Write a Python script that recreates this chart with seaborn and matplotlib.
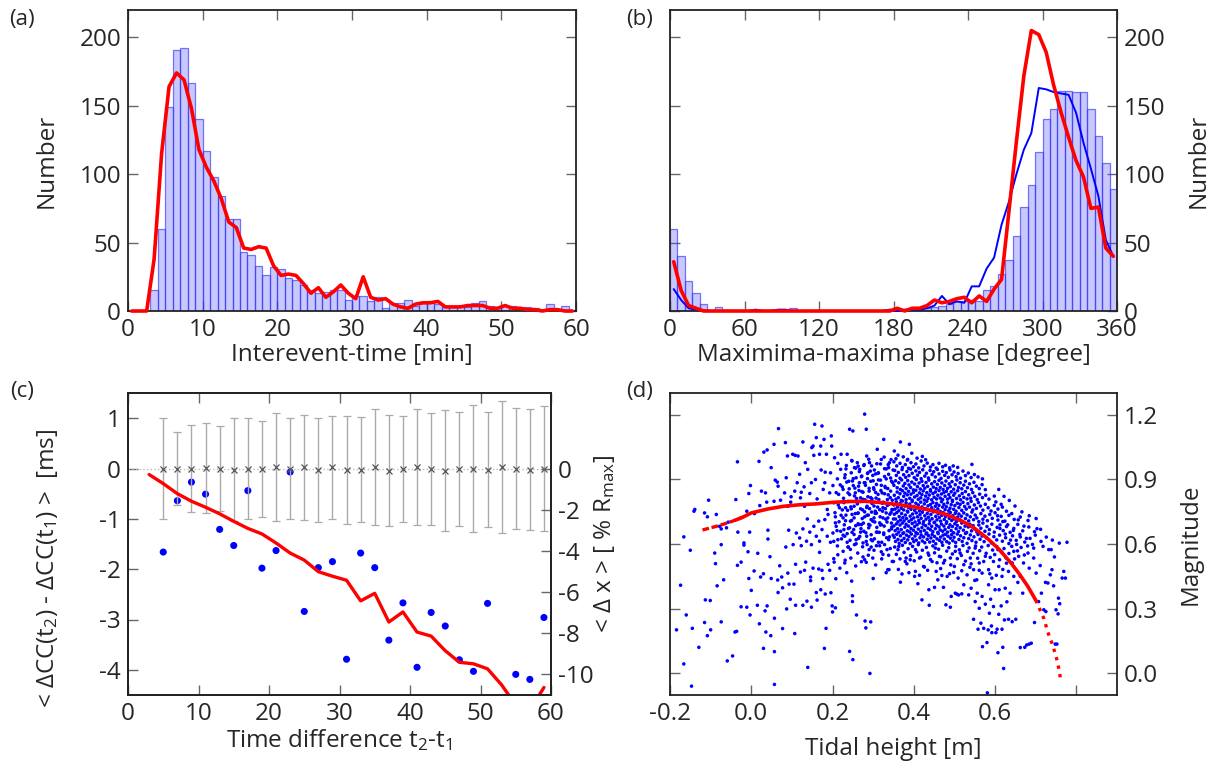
import numpy as np
import pandas as pd
import matplotlib
matplotlib.use("Agg")
import matplotlib.pyplot as plt
import seaborn as sns

# ---- (a) interevent-time histogram (1 min bins) + red model ----
interevent_counts = [0, 0, 0, 15, 60, 149, 191, 192, 167, 140, 117, 98, 84, 67, 67, 43, 41, 33, 26, 32,
                     31, 24, 23, 19, 15, 13, 14, 15, 15, 8, 11, 11, 7, 10, 2, 6, 6, 8, 4, 6,
                     7, 5, 3, 3, 4, 3, 6, 7, 4, 3, 4, 4, 2, 3, 2, 1, 5, 1, 4, 1]
interevent_model = [0, 0, 0, 38, 115, 164, 174, 169, 148, 118, 105, 95, 82, 65, 61, 46, 45, 47, 46, 33,
                    26, 27, 26, 20, 13, 17, 10, 14, 19, 13, 9, 25, 10, 8, 9, 5, 3, 2, 5, 6,
                    6, 7, 3, 3, 3, 4, 4, 4, 2, 2, 4, 2, 2, 1, 1, 0, 1, 1, 0, 0]

# ---- (b) phase histogram (6 degree bins) + blue / red curves ----
phase_counts = [60, 40, 22, 13, 5, 1, 3, 1, 0, 0, 0, 1, 1, 1, 1, 1, 2, 0, 0, 0,
                0, 0, 0, 0, 0, 0, 0, 0, 0, 1, 0, 1, 1, 1, 2, 3, 4, 5, 7, 7,
                8, 7, 15, 18, 27, 37, 55, 76, 92, 116, 140, 148, 161, 161, 160, 160, 148, 128, 108, 89]
phase_blue = [16, 8, 2, 1, 0.5, 0, 0, 0, 0, 0, 0, 1, 0, 0, 1, 1, 0, 0, 0, 0,
              0, 0, 0, 0, 0, 0, 0, 0, 0, 1, 0, 1, 1, 1, 2, 4, 11, 5, 7, 6,
              18, 18, 31, 39, 63, 80, 100, 118, 130, 163, 162, 160, 159, 158, 145, 123, 104, 84, 52, 40]
phase_red = [36, 15, 4, 2, 0, 0, 0, 0, 0, 0, 0, 0, 0, 0, 0, 0, 0, 0, 0, 0,
             0, 0, 0, 0, 0, 0, 0, 0, 0, 0, 2, 0, 2, 2, 4, 8, 6, 7, 9, 10,
             6, 11, 7, 16, 23, 73, 124, 172, 205, 202, 189, 165, 145, 127, 110, 98, 75, 76, 46, 40]

# ---- (c) stacked cross-correlation differences ----
lag_x = [5, 7, 9, 11, 13, 15, 17, 19, 21, 23, 25, 27, 29, 31, 33, 35, 37, 39, 41, 43,
         45, 47, 49, 51, 53, 55, 57, 59]
lag_mean = [0, 0, 0, 0.01, 0, -0.02, 0, -0.01, 0.03, 0, 0.02, -0.03, 0.02, -0.03, -0.02, 0.03,
            -0.04, -0.01, 0.03, -0.01, -0.04, -0.01, 0, -0.02, 0.03, 0, -0.02, 0]
lag_err = [1.0, 0.73, 0.87, 0.9, 0.85, 1.02, 1.0, 0.95, 1.07, 1.0, 1.04, 1.04, 1.03, 1.08,
           1.04, 1.15, 1.11, 1.06, 1.16, 1.12, 1.21, 1.14, 1.26, 1.15, 1.32, 1.2, 1.21, 1.25]
dots_x = [5, 7, 9, 11, 13, 15, 17, 19, 21, 23, 25, 27, 29, 31, 33, 35, 37, 39, 41, 43,
          45, 47, 49, 51, 55, 57, 59]
dots_y = [-1.66, -0.64, -0.27, -0.51, -1.21, -1.53, -0.44, -1.98, -1.63, -0.07, -2.84, -1.97,
          -1.85, -3.79, -1.68, -1.97, -3.41, -2.67, -3.95, -2.86, -3.13, -3.8, -4.03, -2.68,
          -4.09, -4.19, -2.96]
shift_x = [3, 5, 7, 9, 11, 13, 15, 17, 19, 21, 23, 25, 27, 29, 31, 33, 35, 37, 39, 41,
           43, 45, 47, 49, 51, 53, 55, 57, 59]
shift_y = [-0.12, -0.3, -0.5, -0.65, -0.77, -0.9, -1.05, -1.19, -1.3, -1.48, -1.68, -1.82,
           -2.05, -2.14, -2.22, -2.63, -2.48, -3.05, -2.85, -3.25, -3.33, -3.62, -3.85, -3.88,
           -3.98, -4.3, -4.7, -4.8, -4.35]

# ---- (d) magnitude vs tidal height ----
pts_upper_left = [
    (-0.166, 0.633), (-0.141, 0.752), (-0.139, 0.760), (-0.115, 0.744), (-0.108, 0.726), (-0.105, 0.803),
    (-0.086, 0.737), (-0.078, 0.682), (-0.074, 0.670), (-0.061, 0.675), (-0.057, 0.701), (-0.038, 0.806),
    (-0.034, 0.981), (-0.033, 0.655), (-0.018, 0.605), (-0.011, 0.752), (-0.006, 0.834), (-0.004, 0.655),
    (-0.002, 0.871), (0.008, 0.741), (0.019, 0.983), (0.021, 0.778), (0.025, 0.845), (0.031, 1.026),
    (0.035, 0.837), (0.038, 0.794), (0.039, 1.036), (0.041, 0.664), (0.041, 0.623), (0.049, 0.954),
    (0.056, 1.062), (0.056, 0.798), (0.059, 0.896), (0.064, 0.887), (0.066, 0.868), (0.067, 1.135),
    (0.072, 0.803), (0.082, 0.837), (0.084, 1.070), (0.086, 0.907), (0.089, 1.008), (0.090, 0.775),
    (0.092, 0.664), (0.097, 0.794), (0.098, 0.819), (0.102, 1.016), (0.107, 0.845), (0.108, 1.011),
    (0.113, 0.884), (0.115, 1.008), (0.119, 0.923), (0.121, 0.814), (0.123, 0.840), (0.127, 1.073),
    (0.130, 0.865), (0.131, 0.775), (0.133, 0.977), (0.138, 0.716), (0.139, 0.946), (0.144, 0.834),
    (0.148, 0.884), (0.149, 1.047), (0.152, 1.054), (0.154, 1.011), (0.156, 1.155), (0.158, 0.899),
    (0.160, 1.093), (0.162, 0.809), (0.166, 0.706), (0.168, 1.016), (0.171, 1.054), (0.172, 0.943),
    (0.174, 1.147), (0.177, 0.853), (0.179, 1.085), (0.181, 0.884), (0.182, 0.933), (0.185, 1.016),
    (0.187, 0.760), (0.189, 0.737), (0.193, 0.837), (0.195, 0.930), (0.197, 1.101), (0.198, 1.054),
    (0.201, 0.871), (0.203, 0.791), (0.205, 1.000), (0.207, 0.726), (0.209, 0.682), (0.212, 0.902),
    (0.213, 0.974), (0.215, 0.830), (0.217, 0.768), (0.220, 0.946), (0.221, 1.016), (0.226, 0.853),
    (0.228, 0.667), (0.230, 0.907), (0.232, 0.768), (0.234, 0.964), (0.236, 1.016), (0.238, 0.837),
    (0.240, 0.891), (0.242, 1.132), (0.244, 0.706), (0.246, 0.930), (0.248, 0.985), (0.250, 1.124),
    (0.251, 0.871), (0.253, 0.775), (0.254, 0.954), (0.256, 0.837), (0.258, 0.907), (0.261, 0.977),
    (0.263, 0.744), (0.264, 0.868), (0.267, 0.946), (0.269, 0.814), (0.271, 0.690), (0.272, 0.915),
    (0.275, 0.840), (0.277, 0.964), (0.279, 1.202), (0.280, 0.884), (0.283, 1.132), (0.284, 1.008),
    (0.285, 0.775), (0.287, 0.930), (0.290, 0.845), (0.291, 0.977), (0.294, 0.891), (0.295, 0.713),
    (0.297, 0.809), (0.299, 0.918), (0.302, 0.853), (0.303, 0.943), (0.305, 0.752), (0.308, 0.876),
    (0.310, 1.039), (0.312, 0.830), (0.313, 0.930), (0.316, 0.698), (0.318, 0.896), (0.320, 0.992),
    (0.322, 0.837), (0.324, 0.768), (0.326, 1.085), (0.328, 0.949), (0.330, 0.861), (0.332, 0.902),
    (0.335, 0.806), (0.336, 0.721), (0.338, 0.923), (0.340, 0.977), (0.343, 0.845), (0.345, 0.891),
    (0.346, 0.760), (0.349, 0.943),
    (0.111, 0.651), (0.119, 0.628), (0.127, 0.670), (0.136, 0.613), (0.144, 0.655), (0.154, 0.682),
    (0.160, 0.636), (0.168, 0.613), (0.174, 0.667), (0.181, 0.713), (0.187, 0.636), (0.195, 0.608),
    (0.201, 0.651), (0.207, 0.698), (0.213, 0.620), (0.220, 0.659), (0.226, 0.721), (0.230, 0.636),
    (0.236, 0.608), (0.242, 0.675), (0.248, 0.737), (0.253, 0.644), (0.258, 0.620), (0.264, 0.690),
    (0.269, 0.655), (0.275, 0.605), (0.279, 0.726), (0.284, 0.636), (0.289, 0.675), (0.295, 0.620),
    (0.302, 0.721), (0.308, 0.655), (0.313, 0.608), (0.320, 0.690), (0.326, 0.644), (0.332, 0.744),
    (0.338, 0.620), (0.345, 0.670), (0.350, 0.716),
]
pts_mid_left = [
    (0.203, 0.612), (0.206, 0.745), (0.209, 0.838), (0.211, 0.662), (0.214, 0.781), (0.216, 0.703),
    (0.219, 0.874), (0.222, 0.624), (0.224, 0.758), (0.227, 0.812), (0.229, 0.689), (0.231, 0.921),
    (0.233, 0.734), (0.236, 0.648), (0.238, 0.797), (0.241, 0.856), (0.243, 0.617), (0.245, 0.772),
    (0.247, 0.709), (0.249, 0.892), (0.252, 0.667), (0.254, 0.823), (0.256, 0.741), (0.258, 0.601),
    (0.261, 0.786), (0.263, 0.694), (0.265, 0.848), (0.267, 0.635), (0.269, 0.763), (0.271, 0.912),
    (0.273, 0.718), (0.275, 0.807), (0.277, 0.659), (0.279, 0.749), (0.281, 0.872), (0.283, 0.612),
    (0.285, 0.733), (0.287, 0.819), (0.289, 0.691), (0.291, 0.764), (0.293, 0.938), (0.295, 0.643),
    (0.297, 0.788), (0.299, 0.706), (0.301, 0.861), (0.303, 0.624), (0.305, 0.742), (0.307, 0.813),
    (0.309, 0.677), (0.311, 0.771), (0.313, 0.897), (0.315, 0.654), (0.317, 0.726), (0.319, 0.848),
    (0.321, 0.608), (0.323, 0.752), (0.325, 0.794), (0.327, 0.683), (0.329, 0.867), (0.331, 0.715),
    (0.333, 0.629), (0.335, 0.779), (0.337, 0.828), (0.339, 0.662), (0.341, 0.738), (0.343, 0.906),
    (0.345, 0.697), (0.347, 0.803), (0.349, 0.641), (0.348, 0.759),
    (0.257, 0.952), (0.266, 0.884), (0.278, 0.968), (0.286, 0.903), (0.296, 0.962), (0.306, 0.925),
    (0.318, 0.971), (0.328, 0.913), (0.338, 0.954), (0.344, 0.991),
    (0.212, 0.591), (0.226, 0.566), (0.244, 0.575), (0.262, 0.558), (0.274, 0.587), (0.288, 0.548),
    (0.302, 0.571), (0.316, 0.592), (0.324, 0.552), (0.342, 0.579),
    (0.231, 0.525), (0.257, 0.498), (0.283, 0.515), (0.306, 0.503), (0.321, 0.531), (0.338, 0.548),
    (0.221, 0.733), (0.224, 0.865), (0.226, 0.641), (0.228, 0.792), (0.232, 0.708), (0.235, 0.887),
    (0.237, 0.756), (0.239, 0.672), (0.242, 0.829), (0.246, 0.763), (0.248, 0.654), (0.251, 0.903),
    (0.253, 0.721), (0.255, 0.859), (0.257, 0.685), (0.259, 0.811), (0.262, 0.742), (0.264, 0.626),
    (0.266, 0.936), (0.268, 0.797), (0.270, 0.671), (0.272, 0.843), (0.274, 0.758), (0.276, 0.697),
    (0.278, 0.884), (0.280, 0.805), (0.282, 0.652), (0.284, 0.769), (0.286, 0.927), (0.288, 0.734),
    (0.290, 0.858), (0.292, 0.687), (0.294, 0.815), (0.296, 0.748), (0.298, 0.615), (0.300, 0.893),
    (0.302, 0.776), (0.304, 0.702), (0.306, 0.839), (0.308, 0.743), (0.310, 0.655), (0.312, 0.928),
    (0.314, 0.806), (0.316, 0.759), (0.318, 0.688), (0.320, 0.872), (0.322, 0.789), (0.324, 0.721),
    (0.326, 0.651), (0.328, 0.833), (0.330, 0.764), (0.332, 0.948), (0.334, 0.702), (0.336, 0.857),
    (0.338, 0.784), (0.340, 0.633), (0.342, 0.815), (0.344, 0.746), (0.346, 0.679), (0.348, 0.884),
    (0.233, 0.948), (0.247, 0.987), (0.263, 0.961), (0.289, 0.993), (0.309, 0.972), (0.327, 1.003),
    (0.337, 0.968),
]
pts_lower_left = [
    (-0.150, 0.571), (-0.090, 0.558), (-0.088, 0.509), (-0.174, 0.409), (-0.084, 0.406), (-0.068, 0.434),
    (-0.160, 0.271), (-0.184, 0.202), (-0.145, 0.209), (-0.113, 0.341), (-0.101, 0.338), (-0.115, 0.236),
    (-0.108, 0.175), (-0.100, 0.202), (-0.129, 0.121), (-0.166, 0.044), (-0.147, -0.059), (-0.074, 0.239),
    (-0.059, 0.058), (-0.046, 0.081), (-0.040, 0.192), (-0.036, 0.195), (-0.034, 0.501), (-0.025, 0.516),
    (-0.025, 0.309), (-0.011, 0.307), (-0.008, 0.564), (-0.006, 0.440), (-0.003, 0.271), (0.000, 0.385),
    (0.007, 0.475), (0.015, 0.316), (0.016, 0.557), (0.020, 0.230), (0.023, 0.447), (0.030, 0.462),
    (0.030, 0.116), (0.034, 0.290), (0.036, 0.192), (0.039, 0.313), (0.046, 0.541), (0.048, 0.175),
    (0.049, 0.440), (0.057, 0.256), (0.057, 0.101), (0.057, -0.051), (0.065, 0.433), (0.066, 0.375),
    (0.070, 0.499), (0.075, 0.447), (0.077, 0.397), (0.077, 0.208), (0.085, 0.586), (0.087, 0.299),
    (0.090, 0.465), (0.093, 0.414), (0.096, 0.344), (0.105, 0.414), (0.107, 0.185), (0.109, 0.506),
    (0.109, 0.316), (0.121, 0.470), (0.127, 0.316), (0.131, 0.478), (0.134, 0.516), (0.137, 0.335),
    (0.139, 0.028), (0.146, 0.447), (0.146, 0.430), (0.148, 0.307), (0.152, 0.488), (0.160, 0.375),
    (0.162, 0.340), (0.166, 0.484), (0.168, 0.561), (0.171, 0.388), (0.174, 0.478), (0.176, 0.440),
    (0.180, 0.116), (0.182, 0.368), (0.184, 0.209), (0.189, 0.506), (0.193, 0.478), (0.196, 0.374),
    (0.199, 0.313), (0.200, 0.285), (0.203, 0.532), (0.204, 0.516), (0.207, 0.304), (0.208, 0.439),
    (0.213, 0.550), (0.218, 0.488), (0.230, 0.512), (0.235, 0.467), (0.239, 0.586), (0.242, 0.102),
    (0.247, 0.428), (0.249, 0.360), (0.249, 0.333), (0.250, 0.064), (0.259, 0.271), (0.271, 0.518),
    (0.275, 0.540), (0.280, 0.243), (0.282, 0.211), (0.290, 0.574), (0.292, 0.000), (0.294, 0.239),
    (0.300, 0.440), (0.320, 0.564), (0.332, 0.467), (0.339, 0.481), (0.347, 0.519),
    (-0.074, 0.597), (-0.018, 0.595), (0.103, 0.597), (0.123, 0.592), (0.148, 0.597), (0.238, 0.586),
    (0.254, 0.597), (0.285, 0.597), (0.295, 0.586), (0.308, 0.592), (0.328, 0.597), (0.334, 0.574),
    (0.245, 0.535), (0.279, 0.527), (0.299, 0.535), (0.336, 0.481),
]
pts_lower_right = [
    (0.367, 0.423), (0.371, 0.461), (0.402, 0.450), (0.410, 0.416), (0.420, 0.341), (0.438, 0.316),
    (0.437, 0.388), (0.451, 0.399), (0.459, 0.434), (0.469, 0.454), (0.473, 0.399), (0.479, 0.318),
    (0.490, 0.307), (0.492, 0.357), (0.498, 0.468), (0.502, 0.372), (0.506, 0.368), (0.510, 0.364),
    (0.518, 0.369), (0.523, 0.411), (0.535, 0.364), (0.541, 0.395), (0.547, 0.251), (0.550, 0.431),
    (0.551, 0.333), (0.556, 0.372), (0.558, 0.205), (0.561, 0.302), (0.565, 0.233), (0.568, 0.357),
    (0.569, 0.124), (0.572, 0.209), (0.576, 0.321), (0.580, 0.143), (0.581, -0.090), (0.583, 0.202),
    (0.584, 0.411), (0.586, 0.279), (0.589, 0.344), (0.591, 0.220), (0.592, 0.189), (0.596, 0.310),
    (0.600, 0.388), (0.602, 0.189), (0.605, 0.205), (0.607, 0.096), (0.609, 0.274), (0.610, 0.388),
    (0.615, 0.313), (0.617, 0.205), (0.619, 0.121), (0.621, 0.023), (0.623, 0.248), (0.625, 0.395),
    (0.629, 0.332), (0.633, 0.251), (0.637, 0.372), (0.642, 0.240), (0.646, 0.450), (0.651, 0.251),
    (0.656, 0.422), (0.662, 0.120), (0.668, 0.372), (0.673, 0.121), (0.678, 0.132), (0.684, 0.136),
    (0.689, 0.140), (0.697, 0.236), (0.707, 0.333), (0.714, 0.372), (0.720, 0.295), (0.724, 0.422),
    (0.725, 0.287), (0.730, 0.419), (0.736, 0.457), (0.740, 0.481), (0.744, 0.406), (0.748, 0.136),
    (0.750, 0.295), (0.752, 0.136), (0.755, 0.276), (0.756, 0.349), (0.759, 0.323), (0.765, 0.442),
    (0.769, 0.473), (0.773, 0.442), (0.746, 0.540), (0.732, 0.574), (0.711, 0.500), (0.695, 0.535),
    (0.701, 0.465), (0.684, 0.488), (0.670, 0.512), (0.681, 0.558), (0.662, 0.450), (0.658, 0.543),
    (0.642, 0.512), (0.633, 0.473), (0.627, 0.535), (0.617, 0.450), (0.609, 0.496), (0.596, 0.519),
    (0.592, 0.442), (0.584, 0.481), (0.576, 0.543), (0.568, 0.465), (0.561, 0.512), (0.555, 0.434),
    (0.547, 0.481), (0.539, 0.535), (0.531, 0.457), (0.523, 0.504), (0.514, 0.558), (0.509, 0.442),
    (0.500, 0.496), (0.490, 0.535), (0.482, 0.450), (0.473, 0.512), (0.463, 0.543), (0.455, 0.473),
    (0.445, 0.519), (0.435, 0.558), (0.424, 0.496), (0.414, 0.535), (0.404, 0.473), (0.391, 0.527),
    (0.381, 0.535), (0.379, 0.519), (0.363, 0.589), (0.350, 0.519), (0.404, 0.574), (0.453, 0.581),
    (0.502, 0.566), (0.551, 0.581), (0.607, 0.574), (0.646, 0.566), (0.695, 0.581), (0.738, 0.574),
    (0.353, 0.586), (0.357, 0.552), (0.361, 0.574), (0.366, 0.531), (0.372, 0.594), (0.376, 0.561),
    (0.383, 0.508), (0.386, 0.578), (0.392, 0.546), (0.397, 0.589), (0.401, 0.522), (0.407, 0.563),
    (0.411, 0.597), (0.417, 0.539), (0.421, 0.571), (0.426, 0.493), (0.431, 0.584), (0.437, 0.548),
    (0.441, 0.528), (0.447, 0.591), (0.451, 0.559), (0.457, 0.513), (0.461, 0.576), (0.466, 0.541),
    (0.471, 0.594), (0.476, 0.524), (0.481, 0.567), (0.486, 0.583), (0.491, 0.503), (0.495, 0.554),
    (0.503, 0.589), (0.507, 0.532), (0.512, 0.573), (0.517, 0.547), (0.521, 0.593), (0.527, 0.521),
    (0.532, 0.566), (0.536, 0.582), (0.541, 0.508), (0.546, 0.557), (0.552, 0.591), (0.557, 0.534),
    (0.562, 0.569), (0.567, 0.586), (0.572, 0.519), (0.578, 0.557), (0.583, 0.593), (0.588, 0.538),
    (0.594, 0.572), (0.599, 0.551), (0.604, 0.588), (0.611, 0.527), (0.616, 0.563), (0.622, 0.579),
    (0.628, 0.511), (0.634, 0.556), (0.641, 0.589), (0.648, 0.531), (0.655, 0.568), (0.664, 0.584),
    (0.672, 0.549), (0.680, 0.591),
    (0.362, 0.482), (0.388, 0.467), (0.414, 0.455), (0.434, 0.478), (0.466, 0.486), (0.488, 0.462),
    (0.518, 0.476), (0.538, 0.492), (0.561, 0.478), (0.587, 0.462), (0.603, 0.455), (0.619, 0.482),
]
pts_core = [
    (0.367, 1.073), (0.389, 1.062), (0.352, 1.031), (0.361, 1.012), (0.374, 1.004), (0.395, 1.021),
    (0.408, 0.998), (0.356, 0.995), (0.421, 1.006), (0.384, 0.989),
    (0.351, 0.981), (0.358, 0.962), (0.366, 0.974), (0.372, 0.955), (0.379, 0.968), (0.387, 0.951),
    (0.393, 0.977), (0.399, 0.958), (0.405, 0.971), (0.412, 0.953), (0.418, 0.985), (0.425, 0.962),
    (0.433, 0.975), (0.441, 0.957), (0.447, 0.968), (0.455, 0.952), (0.462, 0.974), (0.471, 0.958),
    (0.478, 0.965), (0.488, 0.953), (0.497, 0.962), (0.508, 0.955), (0.543, 0.969), (0.385, 0.992),
    (0.429, 0.991),
    (0.353, 0.941), (0.357, 0.918), (0.362, 0.932), (0.366, 0.905), (0.371, 0.945), (0.375, 0.921),
    (0.380, 0.909), (0.383, 0.936), (0.388, 0.917), (0.392, 0.947), (0.396, 0.928), (0.401, 0.908),
    (0.405, 0.939), (0.409, 0.919), (0.414, 0.932), (0.418, 0.903), (0.422, 0.944), (0.427, 0.915),
    (0.431, 0.928), (0.436, 0.906), (0.440, 0.941), (0.445, 0.922), (0.449, 0.935), (0.453, 0.911),
    (0.458, 0.946), (0.462, 0.925), (0.467, 0.904), (0.471, 0.937), (0.476, 0.918), (0.480, 0.931),
    (0.485, 0.909), (0.489, 0.943), (0.494, 0.921), (0.499, 0.934), (0.504, 0.912), (0.509, 0.927),
    (0.515, 0.905), (0.521, 0.938), (0.527, 0.917), (0.534, 0.929), (0.541, 0.908), (0.549, 0.922),
    (0.558, 0.911), (0.569, 0.902),
    (0.351, 0.872), (0.355, 0.893), (0.359, 0.861), (0.363, 0.884), (0.367, 0.853), (0.370, 0.897),
    (0.374, 0.869), (0.378, 0.881), (0.381, 0.857), (0.385, 0.894), (0.388, 0.874), (0.392, 0.862),
    (0.395, 0.887), (0.399, 0.851), (0.402, 0.878), (0.406, 0.899), (0.409, 0.866), (0.413, 0.883),
    (0.416, 0.855), (0.420, 0.891), (0.423, 0.871), (0.427, 0.859), (0.430, 0.885), (0.434, 0.867),
    (0.437, 0.896), (0.441, 0.852), (0.444, 0.879), (0.448, 0.864), (0.451, 0.889), (0.455, 0.857),
    (0.458, 0.876), (0.462, 0.895), (0.465, 0.862), (0.469, 0.883), (0.472, 0.853), (0.476, 0.871),
    (0.479, 0.892), (0.483, 0.858), (0.487, 0.879), (0.490, 0.866), (0.494, 0.889), (0.498, 0.854),
    (0.502, 0.875), (0.506, 0.897), (0.510, 0.862), (0.514, 0.884), (0.518, 0.856), (0.523, 0.873),
    (0.527, 0.891), (0.532, 0.861), (0.537, 0.879), (0.542, 0.853), (0.548, 0.886), (0.554, 0.868),
    (0.561, 0.857), (0.568, 0.875), (0.576, 0.852),
    (0.352, 0.826), (0.356, 0.808), (0.359, 0.841), (0.362, 0.815), (0.366, 0.833), (0.369, 0.802),
    (0.372, 0.847), (0.375, 0.821), (0.378, 0.836), (0.381, 0.806), (0.384, 0.828), (0.387, 0.844),
    (0.390, 0.812), (0.393, 0.831), (0.396, 0.803), (0.399, 0.839), (0.402, 0.818), (0.405, 0.849),
    (0.408, 0.825), (0.411, 0.807), (0.414, 0.837), (0.417, 0.814), (0.420, 0.829), (0.423, 0.846),
    (0.426, 0.804), (0.429, 0.822), (0.432, 0.838), (0.435, 0.811), (0.438, 0.827), (0.441, 0.845),
    (0.444, 0.805), (0.447, 0.834), (0.450, 0.817), (0.453, 0.841), (0.456, 0.809), (0.459, 0.826),
    (0.462, 0.848), (0.465, 0.813), (0.468, 0.832), (0.471, 0.806), (0.474, 0.839), (0.477, 0.821),
    (0.480, 0.844), (0.483, 0.808), (0.486, 0.829), (0.489, 0.815), (0.492, 0.842), (0.495, 0.803),
    (0.498, 0.826), (0.501, 0.836), (0.505, 0.811), (0.508, 0.847), (0.512, 0.823), (0.515, 0.805),
    (0.519, 0.834), (0.523, 0.816), (0.527, 0.843), (0.531, 0.809), (0.535, 0.828), (0.540, 0.812),
    (0.545, 0.838), (0.550, 0.821), (0.556, 0.806), (0.562, 0.831), (0.569, 0.815), (0.577, 0.826),
    (0.585, 0.808), (0.598, 0.822),
    (0.351, 0.781), (0.354, 0.762), (0.357, 0.795), (0.360, 0.771), (0.363, 0.754), (0.366, 0.788),
    (0.369, 0.766), (0.372, 0.799), (0.375, 0.758), (0.378, 0.776), (0.381, 0.791), (0.384, 0.752),
    (0.387, 0.769), (0.390, 0.785), (0.393, 0.761), (0.396, 0.797), (0.399, 0.774), (0.402, 0.756),
    (0.405, 0.789), (0.408, 0.767), (0.411, 0.781), (0.414, 0.753), (0.417, 0.794), (0.420, 0.772),
    (0.423, 0.759), (0.426, 0.786), (0.429, 0.764), (0.432, 0.798), (0.435, 0.777), (0.438, 0.755),
    (0.441, 0.783), (0.444, 0.768), (0.447, 0.792), (0.450, 0.757), (0.453, 0.775), (0.456, 0.788),
    (0.459, 0.763), (0.462, 0.779), (0.465, 0.751), (0.468, 0.796), (0.471, 0.771), (0.474, 0.784),
    (0.477, 0.759), (0.480, 0.773), (0.483, 0.791), (0.486, 0.754), (0.489, 0.766), (0.492, 0.782),
    (0.495, 0.797), (0.498, 0.761), (0.501, 0.778), (0.504, 0.752), (0.507, 0.789), (0.511, 0.769),
    (0.514, 0.784), (0.518, 0.756), (0.521, 0.793), (0.525, 0.774), (0.529, 0.762), (0.533, 0.787),
    (0.537, 0.771), (0.541, 0.798), (0.545, 0.758), (0.549, 0.781), (0.554, 0.765), (0.559, 0.792),
    (0.564, 0.776), (0.570, 0.757), (0.576, 0.784), (0.583, 0.768), (0.590, 0.753), (0.598, 0.779),
    (0.607, 0.762), (0.618, 0.771),
    (0.352, 0.738), (0.355, 0.716), (0.358, 0.745), (0.361, 0.703), (0.364, 0.727), (0.367, 0.711),
    (0.370, 0.741), (0.373, 0.722), (0.376, 0.707), (0.379, 0.734), (0.382, 0.718), (0.385, 0.748),
    (0.388, 0.705), (0.391, 0.729), (0.394, 0.713), (0.397, 0.739), (0.400, 0.721), (0.403, 0.702),
    (0.406, 0.744), (0.409, 0.726), (0.412, 0.709), (0.415, 0.736), (0.418, 0.719), (0.421, 0.747),
    (0.424, 0.704), (0.427, 0.731), (0.430, 0.715), (0.433, 0.742), (0.436, 0.724), (0.439, 0.708),
    (0.442, 0.737), (0.445, 0.717), (0.448, 0.749), (0.451, 0.701), (0.454, 0.728), (0.457, 0.712),
    (0.460, 0.740), (0.463, 0.723), (0.466, 0.706), (0.469, 0.733), (0.472, 0.745), (0.475, 0.714),
    (0.478, 0.727), (0.481, 0.703), (0.484, 0.738), (0.487, 0.719), (0.490, 0.746), (0.493, 0.709),
    (0.496, 0.731), (0.499, 0.716), (0.502, 0.742), (0.505, 0.705), (0.508, 0.725), (0.511, 0.739),
    (0.514, 0.711), (0.517, 0.729), (0.520, 0.702), (0.523, 0.744), (0.527, 0.718), (0.531, 0.735),
    (0.535, 0.707), (0.539, 0.726), (0.543, 0.748), (0.547, 0.713), (0.551, 0.734), (0.555, 0.721),
    (0.560, 0.704), (0.565, 0.741), (0.570, 0.715), (0.575, 0.729), (0.581, 0.708), (0.587, 0.737),
    (0.593, 0.719), (0.600, 0.745), (0.607, 0.711), (0.615, 0.728), (0.624, 0.706), (0.634, 0.733),
    (0.647, 0.714), (0.662, 0.725), (0.681, 0.709), (0.701, 0.718),
    (0.351, 0.684), (0.354, 0.662), (0.357, 0.693), (0.360, 0.671), (0.363, 0.655), (0.366, 0.688),
    (0.369, 0.667), (0.372, 0.697), (0.375, 0.652), (0.378, 0.678), (0.381, 0.691), (0.384, 0.661),
    (0.387, 0.683), (0.390, 0.656), (0.393, 0.672), (0.396, 0.695), (0.399, 0.664), (0.402, 0.681),
    (0.405, 0.653), (0.408, 0.689), (0.411, 0.669), (0.414, 0.698), (0.417, 0.658), (0.420, 0.676),
    (0.423, 0.692), (0.426, 0.663), (0.429, 0.685), (0.432, 0.651), (0.435, 0.673), (0.438, 0.694),
    (0.441, 0.666), (0.444, 0.682), (0.447, 0.657), (0.450, 0.699), (0.453, 0.671), (0.456, 0.687),
    (0.459, 0.654), (0.462, 0.679), (0.465, 0.665), (0.468, 0.692), (0.471, 0.659), (0.474, 0.683),
    (0.477, 0.668), (0.480, 0.696), (0.483, 0.655), (0.486, 0.677), (0.489, 0.689), (0.492, 0.662),
    (0.495, 0.681), (0.498, 0.652), (0.501, 0.694), (0.504, 0.671), (0.507, 0.686), (0.510, 0.658),
    (0.514, 0.675), (0.518, 0.697), (0.522, 0.664), (0.526, 0.683), (0.530, 0.653), (0.534, 0.679),
    (0.538, 0.691), (0.542, 0.661), (0.546, 0.685), (0.550, 0.669), (0.555, 0.656), (0.560, 0.688),
    (0.565, 0.673), (0.570, 0.697), (0.575, 0.659), (0.580, 0.681), (0.586, 0.667), (0.592, 0.692),
    (0.598, 0.655), (0.605, 0.677), (0.612, 0.689), (0.620, 0.662), (0.628, 0.681), (0.637, 0.654),
    (0.646, 0.672), (0.656, 0.691), (0.668, 0.661), (0.683, 0.679), (0.697, 0.657), (0.712, 0.668),
    (0.352, 0.631), (0.355, 0.612), (0.358, 0.645), (0.361, 0.621), (0.364, 0.603), (0.367, 0.638),
    (0.370, 0.616), (0.373, 0.649), (0.376, 0.626), (0.379, 0.607), (0.382, 0.641), (0.385, 0.619),
    (0.388, 0.634), (0.391, 0.602), (0.394, 0.646), (0.397, 0.624), (0.400, 0.611), (0.403, 0.637),
    (0.406, 0.618), (0.409, 0.648), (0.412, 0.605), (0.415, 0.629), (0.418, 0.642), (0.421, 0.614),
    (0.424, 0.633), (0.427, 0.606), (0.430, 0.647), (0.433, 0.622), (0.436, 0.639), (0.439, 0.609),
    (0.442, 0.628), (0.445, 0.644), (0.448, 0.613), (0.451, 0.635), (0.454, 0.601), (0.457, 0.624),
    (0.460, 0.648), (0.463, 0.617), (0.466, 0.632), (0.469, 0.608), (0.472, 0.641), (0.475, 0.623),
    (0.478, 0.645), (0.481, 0.611), (0.484, 0.636), (0.487, 0.604), (0.490, 0.627), (0.493, 0.643),
    (0.496, 0.615), (0.499, 0.631), (0.503, 0.607), (0.507, 0.646), (0.511, 0.621), (0.515, 0.638),
    (0.519, 0.612), (0.523, 0.629), (0.527, 0.649), (0.531, 0.603), (0.535, 0.625), (0.539, 0.642),
    (0.543, 0.616), (0.548, 0.633), (0.553, 0.608), (0.558, 0.644), (0.563, 0.622), (0.568, 0.637),
    (0.573, 0.611), (0.579, 0.628), (0.585, 0.646), (0.591, 0.605), (0.597, 0.634), (0.604, 0.619),
    (0.611, 0.641), (0.618, 0.613), (0.626, 0.629), (0.634, 0.602), (0.643, 0.638), (0.652, 0.617),
    (0.662, 0.633), (0.673, 0.609), (0.686, 0.626), (0.699, 0.641), (0.713, 0.612), (0.726, 0.632),
    (0.741, 0.618), (0.758, 0.604), (0.777, 0.608),
    (0.602, 0.795), (0.606, 0.731), (0.609, 0.853), (0.612, 0.672), (0.615, 0.784), (0.619, 0.704),
    (0.622, 0.821), (0.625, 0.646), (0.628, 0.752), (0.631, 0.689), (0.635, 0.802), (0.638, 0.618),
    (0.641, 0.741), (0.645, 0.663), (0.649, 0.776), (0.653, 0.598), (0.657, 0.712), (0.661, 0.644),
    (0.666, 0.749), (0.671, 0.683), (0.677, 0.626), (0.684, 0.731), (0.692, 0.598), (0.703, 0.671),
    (0.718, 0.589),
]
fit_x = [-0.12, -0.10, -0.08, -0.06, -0.04, -0.02, 0.0, 0.04, 0.08, 0.12, 0.16, 0.20, 0.24, 0.28,
         0.32, 0.36, 0.40, 0.44, 0.48, 0.52, 0.55, 0.58, 0.61, 0.64, 0.66, 0.68, 0.70, 0.72, 0.73,
         0.74, 0.75, 0.755, 0.762]
fit_y = [0.665, 0.675, 0.685, 0.697, 0.71, 0.725, 0.744, 0.762, 0.775, 0.782, 0.786, 0.793, 0.797,
         0.798, 0.792, 0.783, 0.772, 0.757, 0.737, 0.705, 0.672, 0.628, 0.575, 0.51, 0.46, 0.405,
         0.34, 0.255, 0.19, 0.14, 0.08, 0.04, -0.035]

# ---------------------------------------------------------------------------
sns.set_style("ticks")
plt.rcParams['font.family'] = ['Open Sans', 'DejaVu Sans']
plt.rcParams['mathtext.default'] = 'regular'
plt.rcParams['axes.unicode_minus'] = False
plt.rcParams['axes.linewidth'] = 1.3
plt.rcParams['axes.edgecolor'] = '#222222'

FS = 17.5
W, H = 1217, 763
fig = plt.figure(figsize=(W / 100, H / 100), dpi=100)


def box(l, t, r, b):
    return [l / W, 1 - b / H, (r - l) / W, (b - t) / H]


def style_ticks(ax):
    ax.tick_params(direction='in', length=7, width=1, color='#666666', labelsize=FS,
                   top=True, right=True, pad=5)


def draw_hist(ax, centers, counts, edges):
    df = pd.DataFrame({'center': centers, 'count': counts})
    sns.histplot(data=df, x='center', weights='count', bins=list(edges), ax=ax)
    for p in ax.patches:
        p.set_facecolor((0.35, 0.35, 0.95, 0.33))
        p.set_edgecolor((0.2, 0.2, 1.0, 0.65))
        p.set_linewidth(0.9)


# (a)
ax_a = fig.add_axes(box(128, 10, 576, 311))
edges_a = np.arange(0, 61, 1)
centers_a = edges_a[:-1] + 0.5
draw_hist(ax_a, centers_a, interevent_counts, edges_a)
sns.lineplot(x=centers_a, y=interevent_model, color='red', lw=2.6, ax=ax_a, zorder=3, clip_on=False)
ax_a.set_xlim(0, 60)
ax_a.set_ylim(0, 220)
ax_a.set_xticks(range(0, 61, 10))
ax_a.set_yticks(range(0, 201, 50))
style_ticks(ax_a)
ax_a.set_xlabel('Interevent-time [min]', fontsize=FS, labelpad=1)
ax_a.set_ylabel('Number', fontsize=FS)
ax_a.yaxis.set_label_coords(-0.155, 0.5)

# (b)
ax_b = fig.add_axes(box(670, 10, 1117, 311))
edges_b = np.arange(0, 361, 6)
centers_b = edges_b[:-1] + 3
draw_hist(ax_b, centers_b, phase_counts, edges_b)
sns.lineplot(x=centers_b, y=phase_blue, color='blue', lw=1.4, ax=ax_b, zorder=3, clip_on=False)
sns.lineplot(x=centers_b, y=phase_red, color='red', lw=2.6, ax=ax_b, zorder=3, clip_on=False)
ax_b.set_xlim(0, 360)
ax_b.set_ylim(0, 220)
ax_b.set_xticks(range(0, 361, 60))
ax_b.set_yticks(range(0, 201, 50))
style_ticks(ax_b)
ax_b.tick_params(labelleft=False, labelright=True)
ax_b.set_xlabel('Maximima-maxima phase [degree]', fontsize=FS, labelpad=1)
ax_b.set_ylabel('Number', fontsize=FS)
ax_b.yaxis.set_label_position('right')
ax_b.yaxis.set_label_coords(1.155, 0.5)

# (c)
ax_c = fig.add_axes(box(128, 393, 551, 695))
ax_c.axhline(0, color='#bbbbbb', ls=':', lw=1)
ax_c.errorbar(lag_x, lag_mean, yerr=lag_err, fmt='x', color='#555555', ecolor='#aaaaaa',
              ms=5, mew=0.9, elinewidth=1, capsize=3, capthick=1)
sns.scatterplot(x=dots_x, y=dots_y, color='blue', s=26, edgecolor='none', ax=ax_c)
sns.lineplot(x=shift_x, y=shift_y, color='red', lw=2.4, ax=ax_c)
ax_c.set_xlim(0, 60)
ax_c.set_ylim(-4.5, 1.5)
ax_c.set_xticks(range(0, 61, 10))
ax_c.set_yticks([-4, -3, -2, -1, 0, 1])
style_ticks(ax_c)
ax_c.tick_params(right=False)
ax_c.set_xlabel('Time difference t$_2$-t$_1$', fontsize=FS, labelpad=1)
ax_c.set_ylabel('< $\\Delta$CC(t$_2$) - $\\Delta$CC(t$_1$) >  [ms]', fontsize=FS)
ax_c.yaxis.set_label_coords(-0.16, 0.42)
ax_c2 = ax_c.twinx()
ax_c2.set_ylim(-4.5 * 2.447, 1.5 * 2.447)
ax_c2.set_yticks([0, -2, -4, -6, -8, -10])
ax_c2.tick_params(direction='in', length=7, width=1, color='#666666', labelsize=FS, pad=5)

# (d)
ax_d = fig.add_axes(box(670, 393, 1117, 695))
scatter_df = pd.DataFrame(pts_upper_left + pts_mid_left + pts_lower_left + pts_lower_right + pts_core,
                          columns=['tide', 'mag'])
sns.scatterplot(data=scatter_df, x='tide', y='mag', color='blue', s=6.5, edgecolor='none',
                linewidth=0, ax=ax_d)
ax_d.plot(fit_x[:6], fit_y[:6], color='red', lw=2.4, ls=(0, (2, 0.8)))
ax_d.plot(fit_x[4:27], fit_y[4:27], color='red', lw=2.6)
ax_d.plot(fit_x[26:], fit_y[26:], color='red', lw=2.4, ls=(0, (1, 1.6)))
ax_d.set_xlim(-0.2, 0.9)
ax_d.set_ylim(-0.1, 1.3)
ax_d.set_xticks([-0.2, 0.0, 0.2, 0.4, 0.6, 0.8])
ax_d.set_xticklabels(['-0.2', '0.0', '0.2', '0.4', '0.6', ''])
ax_d.set_yticks([0.0, 0.3, 0.6, 0.9, 1.2])
ax_d.set_yticklabels(['0.0', '0.3', '0.6', '0.9', '1.2'])
style_ticks(ax_d)
ax_d.tick_params(labelleft=False, labelright=True)
ax_d.set_xlabel('Tidal height [m]', fontsize=FS, labelpad=8)
ax_d.set_ylabel('< $\\Delta$ x > [ % R$_{max}$]', fontsize=FS)
ax_d.yaxis.set_label_coords(-0.118, 0.5)
ax_d.text(1.165, 0.5, 'Magnitude', transform=ax_d.transAxes, rotation=90,
          ha='center', va='center', fontsize=FS)

for lab, x, y in [('(a)', 22, 19), ('(b)', 640, 19), ('(c)', 22, 392), ('(d)', 640, 392)]:
    fig.text(x / W, 1 - y / H, lab, ha='center', va='center', fontsize=16)

fig.savefig('out.png', dpi=100)
